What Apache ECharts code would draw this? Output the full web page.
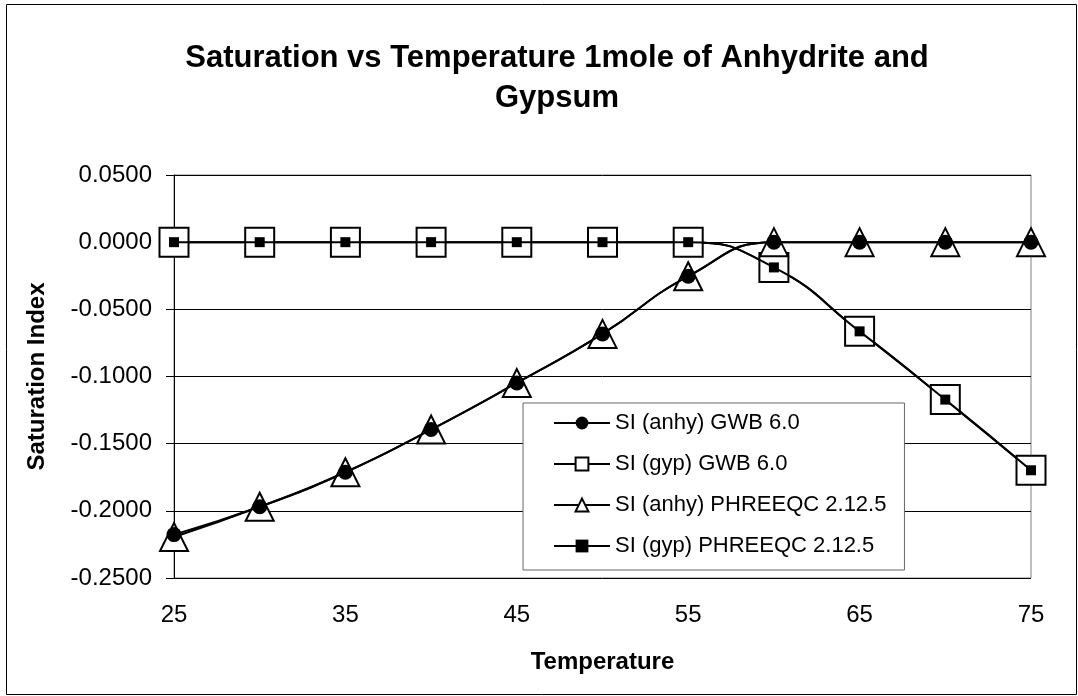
<!DOCTYPE html>
<html>
<head>
<meta charset="utf-8">
<script src="https://cdn.jsdelivr.net/npm/echarts@6/dist/echarts.min.js"></script>
<style>
  html, body { margin: 0; padding: 0; background: #fff; }
  #chart { width: 1078px; height: 696px; }
</style>
</head>
<body>
<div id="chart"></div>
<script>
// temperatures (x categories)
var temps = ['25', '30', '35', '40', '45', '50', '55', '60', '65', '70', '75'];

// saturation index values
var anhyGWB = [-0.2177, -0.197, -0.1713, -0.1395, -0.1048, -0.0683, -0.0254, 0, 0, 0, 0];
var gypGWB = [0, 0, 0, 0, 0, 0, 0, -0.0188, -0.0664, -0.1172, -0.1698];
var anhyPhreeqc = [-0.2195, -0.197, -0.1713, -0.1395, -0.1048, -0.0683, -0.0254, 0, 0, 0, 0];
var gypPhreeqc = [0, 0, 0, 0, 0, 0, 0, -0.0188, -0.0664, -0.1172, -0.1698];

var seriesNames = ['SI (anhy) GWB 6.0', 'SI (gyp) GWB 6.0', 'SI (anhy) PHREEQC 2.12.5', 'SI (gyp) PHREEQC 2.12.5'];

var font = "'Liberation Sans', Arial, sans-serif";
var chart = echarts.init(document.getElementById('chart'));

var line = { color: '#000', width: 2 };

chart.setOption({
  animation: false,
  backgroundColor: '#fff',
  textStyle: { fontFamily: font, color: '#000' },
  title: {
    text: 'Saturation vs Temperature 1mole of Anhydrite and\nGypsum',
    left: 552,
    top: 33,
    textAlign: 'center',
    textStyle: { fontFamily: font, fontSize: 31, fontWeight: 'bold', color: '#000', lineHeight: 40 }
  },
  graphic: [{
    type: 'rect',
    z: -1,
    silent: true,
    shape: { x: 6.5, y: 4.5, width: 1070, height: 690 },
    style: { fill: 'none', stroke: '#000', lineWidth: 1 }
  }],
  grid: {
    left: 174, right: 47, top: 175, bottom: 118,
    show: true, borderColor: '#808080', borderWidth: 1, backgroundColor: 'transparent'
  },
  legend: {
    orient: 'vertical',
    left: 523,
    top: 403,
    padding: [7, 18, 11, 30],
    itemGap: 15,
    itemWidth: 56,
    itemHeight: 16,
    backgroundColor: '#fff',
    borderColor: '#666',
    borderWidth: 1,
    data: seriesNames,
    textStyle: { fontFamily: font, fontSize: 22, color: '#000', lineHeight: 26 }
  },
  xAxis: {
    type: 'category',
    data: temps,
    boundaryGap: false,
    name: 'Temperature',
    nameLocation: 'middle',
    nameGap: 72,
    nameTextStyle: { fontFamily: font, fontSize: 24, fontWeight: 'bold', color: '#000' },
    axisLine: { lineStyle: { color: '#000', width: 1 } },
    axisTick: { show: true, interval: 1, length: 8, inside: false, lineStyle: { color: '#000' } },
    axisLabel: { interval: 1, margin: 25, fontFamily: font, fontSize: 24, color: '#000' },
    splitLine: { show: false }
  },
  yAxis: {
    type: 'value',
    min: -0.25,
    max: 0.05,
    interval: 0.05,
    name: 'Saturation Index',
    nameLocation: 'middle',
    nameGap: 125,
    nameTextStyle: { fontFamily: font, fontSize: 24, fontWeight: 'bold', color: '#000' },
    axisLine: { show: true, lineStyle: { color: '#000', width: 1 } },
    axisTick: { show: true, length: 8, inside: false, lineStyle: { color: '#000' } },
    axisLabel: {
      margin: 22, fontFamily: font, fontSize: 24, color: '#000',
      formatter: function (v) { return v.toFixed(4); }
    },
    splitLine: { show: true, lineStyle: { color: '#000', width: 1 } }
  },
  series: [
    {
      name: seriesNames[0], type: 'line', data: anhyGWB, smooth: true, z: 4,
      symbol: 'circle', symbolSize: 15,
      lineStyle: line,
      itemStyle: { color: '#000', borderColor: '#000', borderWidth: 0 }
    },
    {
      name: seriesNames[1], type: 'line', data: gypGWB, smooth: true, z: 2,
      symbol: 'rect', symbolSize: 29,
      lineStyle: line,
      itemStyle: { color: '#fff', borderColor: '#000', borderWidth: 2 }
    },
    {
      name: seriesNames[2], type: 'line', data: anhyPhreeqc, smooth: true, z: 2,
      symbol: 'triangle', symbolSize: 28,
      lineStyle: line,
      itemStyle: { color: '#fff', borderColor: '#000', borderWidth: 2 }
    },
    {
      name: seriesNames[3], type: 'line', data: gypPhreeqc, smooth: true, z: 4,
      symbol: 'rect', symbolSize: 10,
      lineStyle: line,
      itemStyle: { color: '#000', borderColor: '#000', borderWidth: 0 }
    }
  ]
});
</script>
</body>
</html>
